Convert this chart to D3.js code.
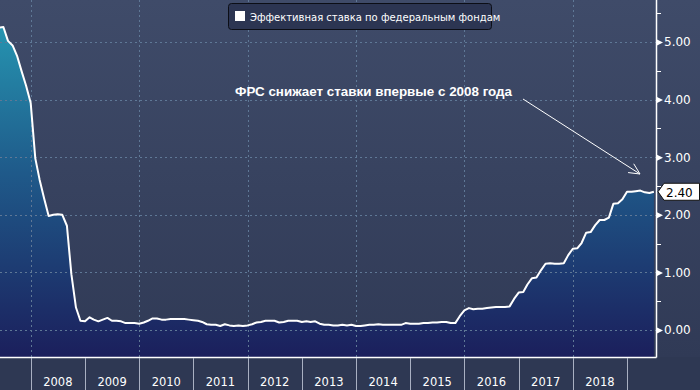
<!DOCTYPE html>
<html>
<head>
<meta charset="utf-8">
<script src="https://cdn.jsdelivr.net/npm/d3@7"></script>
<style>
  body { margin: 0; background: #2e3853; }
  svg { display: block; }
</style>
</head>
<body>
<svg></svg>
<script>
// monthly effective fed funds rate, Jun 2007 .. Jul 2019
let startMonth = new Date(2007, 5, 1);
let rates2007 = [5.25, 5.26, 5.02, 4.94, 4.76, 4.49, 4.24];
let rates2008 = [3.94, 2.98, 2.61, 2.28, 1.98, 2.0, 2.01, 2.0, 1.81, 0.97, 0.39, 0.16];
let rates2009 = [0.15, 0.22, 0.18, 0.15, 0.18, 0.21, 0.16, 0.16, 0.15, 0.12, 0.12, 0.12];
let rates2010 = [0.11, 0.13, 0.16, 0.2, 0.2, 0.18, 0.18, 0.19, 0.19, 0.19, 0.19, 0.18];
let rates2011 = [0.17, 0.16, 0.14, 0.1, 0.09, 0.09, 0.07, 0.1, 0.08, 0.07, 0.08, 0.07];
let rates2012 = [0.08, 0.1, 0.13, 0.14, 0.16, 0.16, 0.16, 0.13, 0.14, 0.16, 0.16, 0.16];
let rates2013 = [0.14, 0.15, 0.14, 0.15, 0.11, 0.09, 0.09, 0.08, 0.08, 0.09, 0.08, 0.09];
let rates2014 = [0.07, 0.07, 0.08, 0.09, 0.09, 0.1, 0.09, 0.09, 0.09, 0.09, 0.09, 0.12];
let rates2015 = [0.11, 0.11, 0.11, 0.12, 0.12, 0.13, 0.13, 0.14, 0.14, 0.12, 0.12, 0.24];
let rates2016 = [0.34, 0.38, 0.36, 0.37, 0.37, 0.38, 0.39, 0.4, 0.4, 0.4, 0.41, 0.54];
let rates2017 = [0.65, 0.66, 0.79, 0.9, 0.91, 1.04, 1.15, 1.16, 1.15, 1.15, 1.16, 1.3];
let rates2018 = [1.41, 1.42, 1.51, 1.69, 1.7, 1.82, 1.91, 1.91, 1.95, 2.19, 2.2, 2.27];
let rates2019 = [2.4, 2.4, 2.41, 2.42, 2.39, 2.38, 2.4];

let years = [2008, 2009, 2010, 2011, 2012, 2013, 2014, 2015, 2016, 2017, 2018];
let yTicks = [0, 1, 2, 3, 4, 5];
let yMinor = [0.5, 1.5, 2.5, 3.5, 4.5, 5.5];
let legendText = "Эффективная ставка по федеральным фондам";
let noteText = "ФРС снижает ставки впервые с 2008 года";
let lastLabel = "2.40";

let rates = [].concat(rates2007, rates2008, rates2009, rates2010, rates2011, rates2012,
  rates2013, rates2014, rates2015, rates2016, rates2017, rates2018, rates2019);
let data = rates.map((v, i) => ({
  date: d3.timeMonth.offset(startMonth, i),
  value: v,
}));

let W = 700, H = 390;
let plot = { left: 0, right: 656, top: 0, bottom: 357 };

let svg = d3.select("svg").attr("width", W).attr("height", H);

let x = d3.scaleTime()
  .domain([new Date(2008, 0, 1), new Date(2019, 0, 1)])
  .range([30.7, 627]);
let y = d3.scaleLinear().domain([0, 5]).range([330, 42]);

let defs = svg.append("defs");
let bg = defs.append("linearGradient").attr("id", "bg")
  .attr("gradientUnits", "userSpaceOnUse")
  .attr("x1", 0).attr("y1", 0).attr("x2", 0).attr("y2", plot.bottom);
bg.append("stop").attr("offset", 0).attr("stop-color", "#3f4b69");
bg.append("stop").attr("offset", 1).attr("stop-color", "#303a56");

let fillGrad = defs.append("linearGradient").attr("id", "fillGrad")
  .attr("gradientUnits", "userSpaceOnUse")
  .attr("x1", 0).attr("y1", 20).attr("x2", 0).attr("y2", plot.bottom);
fillGrad.append("stop").attr("offset", 0).attr("stop-color", "#2697b2");
fillGrad.append("stop").attr("offset", 0.45).attr("stop-color", "#1f5a8a");
fillGrad.append("stop").attr("offset", 1).attr("stop-color", "#1b1f5c");

defs.append("clipPath").attr("id", "clip")
  .append("rect")
  .attr("x", plot.left).attr("y", plot.top)
  .attr("width", plot.right - plot.left).attr("height", plot.bottom - plot.top);

// backgrounds
svg.append("rect").attr("width", W).attr("height", plot.bottom).attr("fill", "url(#bg)");
svg.append("rect").attr("y", plot.bottom).attr("width", W).attr("height", H - plot.bottom)
  .attr("fill", "#2e3853");

let g = svg.append("g").attr("clip-path", "url(#clip)");

// area
let area = d3.area()
  .x((d) => x(d.date))
  .y0(plot.bottom)
  .y1((d) => y(d.value));
g.append("path").datum(data).attr("d", area).attr("fill", "url(#fillGrad)");

// grid
let gridColor = "#5f7896";
g.selectAll(".hgrid")
  .data(yTicks)
  .join("line")
  .attr("x1", plot.left).attr("x2", plot.right)
  .attr("y1", (d) => Math.round(y(d)) + 0.5).attr("y2", (d) => Math.round(y(d)) + 0.5)
  .attr("stroke", gridColor).attr("stroke-dasharray", "2,3");
g.selectAll(".vgrid")
  .data(years.filter((d) => d % 2 == 0))
  .join("line")
  .attr("x1", (d) => Math.round(x(new Date(d, 0, 1))) + 0.5)
  .attr("x2", (d) => Math.round(x(new Date(d, 0, 1))) + 0.5)
  .attr("y1", plot.top).attr("y2", plot.bottom)
  .attr("stroke", gridColor).attr("stroke-dasharray", "2,3");

// line
let line = d3.line().x((d) => x(d.date)).y((d) => y(d.value));
g.append("path").datum(data).attr("d", line)
  .attr("fill", "none").attr("stroke", "white").attr("stroke-width", 2)
  .attr("stroke-linejoin", "round");

// plot frame
svg.append("line")
  .attr("x1", plot.left).attr("x2", plot.right + 0.5)
  .attr("y1", plot.bottom + 0.5).attr("y2", plot.bottom + 0.5)
  .attr("stroke", "white").attr("stroke-width", 1.5);
svg.append("line")
  .attr("x1", plot.right + 0.5).attr("x2", plot.right + 0.5)
  .attr("y1", 0).attr("y2", plot.bottom + 0.5)
  .attr("stroke", "white").attr("stroke-width", 1.5);

// x axis: year dividers and labels
let yearEdges = years.concat([2019]);
svg.selectAll(".ydiv")
  .data(yearEdges)
  .join("line")
  .attr("x1", (d) => Math.round(x(new Date(d, 0, 1))) + 0.5)
  .attr("x2", (d) => Math.round(x(new Date(d, 0, 1))) + 0.5)
  .attr("y1", plot.bottom + 1).attr("y2", H)
  .attr("stroke", "#a9b0c2").attr("stroke-width", 1);
svg.selectAll(".ylab")
  .data(years)
  .join("text")
  .attr("x", (d) => (x(new Date(d, 0, 1)) + x(new Date(d + 1, 0, 1))) / 2)
  .attr("y", 386)
  .attr("text-anchor", "middle")
  .attr("fill", "white")
  .attr("font-family", "DejaVu Sans")
  .attr("font-size", 11.5)
  .text((d) => d);

// y axis on the right
let yAxis = d3.axisRight(y).tickValues(yTicks).tickFormat(d3.format(".2f")).tickSize(0).tickPadding(8);
let ya = svg.append("g").attr("transform", `translate(${plot.right},0)`).call(yAxis);
ya.select(".domain").remove();
ya.selectAll("text").attr("fill", "white").attr("font-family", "DejaVu Sans").attr("font-size", 12);
ya.selectAll(".tick").append("path")
  .attr("d", "M0,-3.5L7,0L0,3.5Z")
  .attr("fill", "white");
svg.selectAll(".minor")
  .data(yMinor)
  .join("line")
  .attr("x1", plot.right).attr("x2", plot.right + 5)
  .attr("y1", (d) => Math.round(y(d)) + 0.5).attr("y2", (d) => Math.round(y(d)) + 0.5)
  .attr("stroke", "white");

// last value tag
let last = data[data.length - 1];
let ly = y(last.value);
svg.append("path")
  .attr("d", `M${plot.right + 2},${ly} L${plot.right + 8},${ly - 8.5} H${W - 0.5} V${ly + 8.5} H${plot.right + 8} Z`)
  .attr("fill", "white").attr("stroke", "#111").attr("stroke-width", 1);
svg.append("text")
  .attr("x", plot.right + 10).attr("y", ly + 5)
  .attr("fill", "black").attr("font-family", "DejaVu Sans").attr("font-size", 12)
  .text(lastLabel);

// legend
let lg = svg.append("g");
lg.append("rect")
  .attr("x", 228.5).attr("y", 3.5).attr("width", 263).attr("height", 26).attr("rx", 3)
  .attr("fill", "#2c3552").attr("stroke", "#0c0e16").attr("stroke-width", 1);
lg.append("rect").attr("x", 235).attr("y", 11).attr("width", 10).attr("height", 10).attr("fill", "white");
lg.append("text")
  .attr("x", 250).attr("y", 20.5)
  .attr("fill", "white").attr("font-family", "DejaVu Sans").attr("font-size", 10)
  .text(legendText);

// annotation
svg.append("text")
  .attr("x", 235).attr("y", 96)
  .attr("fill", "white").attr("font-family", "Liberation Sans").attr("font-weight", "bold")
  .attr("font-size", 13.4)
  .text(noteText);
let ax1 = 523, ay1 = 99, ax2 = 640, ay2 = 174;
svg.append("line")
  .attr("x1", ax1).attr("y1", ay1).attr("x2", ax2).attr("y2", ay2)
  .attr("stroke", "white").attr("stroke-width", 1);
let ang = Math.atan2(ay2 - ay1, ax2 - ax1);
let head = 12, spread = 0.45;
svg.append("path")
  .attr("d", `M${ax2 - head * Math.cos(ang - spread)},${ay2 - head * Math.sin(ang - spread)} L${ax2},${ay2} L${ax2 - head * Math.cos(ang + spread)},${ay2 - head * Math.sin(ang + spread)}`)
  .attr("fill", "none").attr("stroke", "white").attr("stroke-width", 1);
</script>
</body>
</html>
